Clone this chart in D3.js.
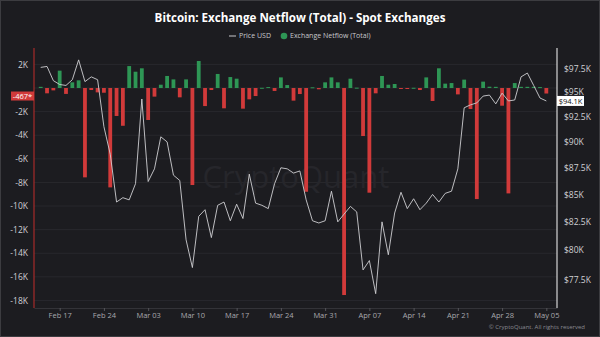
<!DOCTYPE html>
<html><head><meta charset="utf-8">
<script src="https://cdn.jsdelivr.net/npm/d3@7"></script>
<style>
html,body{margin:0;padding:0;background:#1c1c20;}
svg{display:block;}
</style></head>
<body>
<svg id="c" width="600" height="337"></svg>
<script>
// ---- data ----
const startDate = "2025-02-14";
const endDate = "2025-05-05";
const netflow = [100,-450,-200,1470,-500,480,650,-7570,-170,-370,
  -400,-8420,-2370,-3200,1860,1380,1670,-2710,-730,280,
  1020,730,-790,730,-8220,2290,-1530,-170,1190,-1720,
  930,790,-1750,-960,-680,20,80,-250,900,250,
  -1070,-510,-8790,60,-110,480,900,480,-17540,790,
  30,-4070,-8870,-450,1020,280,340,-50,-50,20,
  -170,900,-1100,1670,370,420,-540,710,-1780,-9410,
  540,110,100,-1500,-8930,420,100,100,100,80,-467];
const priceK = [97.6,97.7,96.2,95.8,95.7,96.3,98.4,96.1,96.6,96.3,
  91.5,88.8,84.3,84.7,84.5,86.0,94.3,86.2,87.4,90.5,
  90.0,86.8,86.3,80.9,78.5,83.0,83.6,81.1,84.0,84.3,
  82.6,84.1,82.8,86.9,84.2,84.0,83.7,86.0,87.5,87.4,
  87.0,87.2,84.5,82.6,82.4,82.6,85.3,82.5,83.2,83.9,
  83.4,78.3,79.1,76.3,82.5,79.6,83.3,85.2,83.7,84.6,
  83.6,84.2,85.0,84.3,85.1,85.3,87.4,93.4,93.7,93.9,
  94.6,94.7,93.8,94.9,94.1,94.2,96.6,97.0,95.7,94.4,94.1];
const leftTicks = [2000,-2000,-4000,-6000,-8000,-10000,-12000,-14000,-16000,-18000];
const gridTicks = [2000,0,-2000,-4000,-6000,-8000,-10000,-12000,-14000,-16000,-18000];
const rightTicks = [97500,95000,92500,90000,87500,85000,82500,80000,77500];
const lastFlowLabel = "-467*";
const lastPriceLabel = "$94.1K";

const parse = d3.utcParse("%Y-%m-%d");
const dates = d3.utcDay.range(parse(startDate), d3.utcDay.offset(parse(endDate),1));
const rows = dates.map((d,i)=>({date:d, flow:netflow[i], price:priceK[i]*1000}));

// ---- layout ----
const svg = d3.select("#c");
const L = 34, R = 557, T = 48, B = 308;
const bg = "#1c1c20";
svg.append("rect").attr("x",0.5).attr("y",0.5).attr("width",599).attr("height",336)
  .attr("fill",bg).attr("stroke","#3c3c40");

const x = d3.scaleUtc()
  .domain([new Date(Date.UTC(2025,1,12,22,30)), new Date(Date.UTC(2025,4,6,16,30))])
  .range([L,R]);
const yL = d3.scaleLinear().domain([-18640, 3390]).range([B,T]);
const yR = d3.scaleLog().domain([75120, 99680]).range([B,T]);

const font = "'Open Sans', 'Noto Sans', sans-serif";

// grid
svg.append("g").selectAll("line").data(gridTicks).join("line")
  .attr("x1",L).attr("x2",R).attr("y1",d=>yL(d)).attr("y2",d=>yL(d))
  .attr("stroke","#28282d").attr("stroke-width",1);

// watermark
svg.append("text").attr("x",296).attr("y",188).attr("text-anchor","middle")
  .attr("font-family",font).attr("font-size",31).attr("fill","#26262b")
  .text("CryptoQuant");

// bars
const bw = 3.8;
svg.append("g").selectAll("rect").data(rows).join("rect")
  .attr("x",d=>x(d.date)-bw/2).attr("width",bw)
  .attr("y",d=>Math.min(yL(d.flow),yL(0)))
  .attr("height",d=>Math.max(1,Math.abs(yL(d.flow)-yL(0))))
  .attr("fill",d=>d.flow>=0?"#2e9655":"#d13a3a");

// price line
svg.append("path").datum(rows)
  .attr("d",d3.line().x(d=>x(d.date)).y(d=>yR(d.price)))
  .attr("fill","none").attr("stroke","#cfcfd2").attr("stroke-width",0.9);

// bottom axis
const xa = svg.append("g").attr("transform",`translate(0,${B})`)
  .call(d3.axisBottom(x).ticks(d3.utcMonday.every(1)).tickFormat(d3.utcFormat("%b %d")).tickSize(3).tickSizeOuter(0));
xa.select(".domain").attr("stroke","#333338");
xa.selectAll(".tick line").attr("stroke","#55555a");
xa.selectAll("text").attr("fill","#a8a8ad").attr("font-family",font).attr("font-size",7.5).attr("dy","0.55em");

// left axis
const la = svg.append("g").attr("transform",`translate(${L},0)`)
  .call(d3.axisLeft(yL).tickValues(leftTicks).tickFormat(d=>(d/1000)+"K").tickSize(0).tickPadding(6));
la.select(".domain").remove();
la.selectAll("text").attr("fill","#d0d0d4").attr("font-family",font).attr("font-size",8.5);
svg.append("line").attr("x1",L).attr("x2",L).attr("y1",T).attr("y2",B).attr("stroke","#b52d2b").attr("stroke-width",1.1);

// right axis
const ra = svg.append("g").attr("transform",`translate(${R},0)`)
  .call(d3.axisRight(yR).tickValues(rightTicks).tickFormat(d=>"$"+(d/1000)+"K").tickSize(0).tickPadding(7));
ra.select(".domain").remove();
ra.selectAll("text").attr("fill","#d0d0d4").attr("font-family",font).attr("font-size",8.5);
svg.append("line").attr("x1",R).attr("x2",R).attr("y1",T).attr("y2",B).attr("stroke","#e8e8e8").attr("stroke-width",1.1);

// last value labels
const lv = yL(netflow[netflow.length-1]) + 2.5;
svg.append("rect").attr("x",11).attr("y",lv-4.5).attr("width",23).attr("height",9).attr("fill","#d13a3a");
svg.append("text").attr("x",22.5).attr("y",lv).attr("dy","0.35em").attr("text-anchor","middle")
  .attr("font-family",font).attr("font-size",7.5).attr("fill","#fff").text(lastFlowLabel);
const pv = yR(priceK[priceK.length-1]*1000);
svg.append("rect").attr("x",R).attr("y",pv-5).attr("width",27).attr("height",10).attr("fill","#ffffff");
svg.append("text").attr("x",R+13.5).attr("y",pv).attr("dy","0.35em").attr("text-anchor","middle")
  .attr("font-family",font).attr("font-size",7.5).attr("fill","#111").text(lastPriceLabel);

// title
svg.append("text").attr("x",300).attr("y",22).attr("text-anchor","middle")
  .attr("font-family",font).attr("font-weight","bold").attr("font-size",11.6).attr("fill","#ffffff")
  .text("Bitcoin: Exchange Netflow (Total) - Spot Exchanges");

// legend
const lg = svg.append("g").attr("font-family",font).attr("font-size",7).attr("fill","#c8c8cc");
lg.append("line").attr("x1",229).attr("x2",236).attr("y1",36).attr("y2",36).attr("stroke","#c8c8cc").attr("stroke-width",1);
lg.append("text").attr("x",239).attr("y",36).attr("dy","0.35em").text("Price USD");
lg.append("circle").attr("cx",284).attr("cy",36).attr("r",3.3).attr("fill","#2e9655");
lg.append("text").attr("x",290).attr("y",36).attr("dy","0.35em").text("Exchange Netflow (Total)");

// copyright
svg.append("text").attr("x",585).attr("y",329).attr("text-anchor","end")
  .attr("font-family",font).attr("font-size",6).attr("fill","#8a8a90")
  .text("© CryptoQuant. All rights reserved");
</script>
</body></html>
